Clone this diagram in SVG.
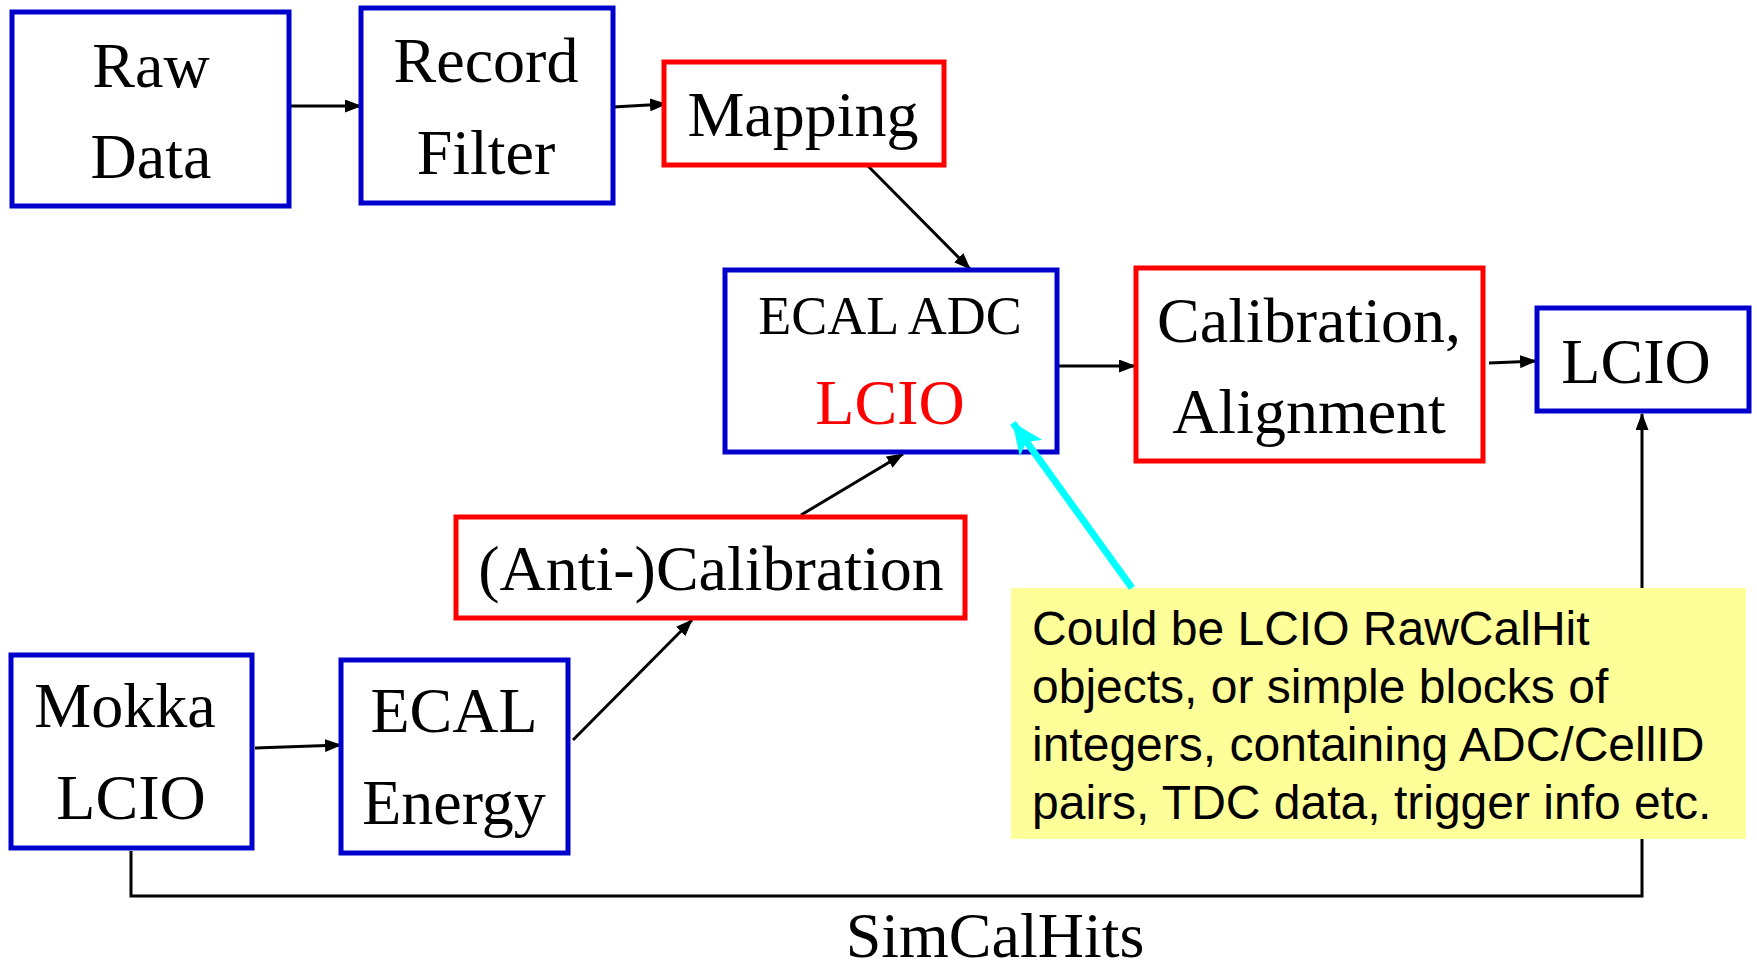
<svg xmlns="http://www.w3.org/2000/svg" width="1757" height="969" viewBox="0 0 1757 969">
<style>
.box{fill:#fff;stroke-width:5}
.blue{stroke:#0000CC}
.red{stroke:#FF0000}
.t{font-family:"Liberation Serif","Times New Roman",serif;font-size:64px;fill:#000;text-anchor:middle}
.s{font-size:54px}
.c{stroke:#000;stroke-width:3;fill:none}
.note{font-family:"Liberation Sans",Arial,sans-serif;font-size:48px;fill:#000}
</style>
<defs>
<marker id="ah" markerWidth="17" markerHeight="13" refX="16" refY="6.5" orient="auto" markerUnits="userSpaceOnUse">
<path d="M0,0 L17,6.5 L0,13 Z" fill="#000"/>
</marker>
<marker id="ahc" markerWidth="32" markerHeight="28" refX="31" refY="14" orient="auto" markerUnits="userSpaceOnUse">
<path d="M0,0 L32,14 L0,28 L8,14 Z" fill="#00FFFF"/>
</marker>
</defs>
<g id="connectors">
<line class="c" x1="290" y1="106" x2="361" y2="106" marker-end="url(#ah)"/>
<line class="c" x1="613" y1="107" x2="666" y2="104" marker-end="url(#ah)"/>
<line class="c" x1="868" y1="166" x2="970" y2="269" marker-end="url(#ah)"/>
<line class="c" x1="1057" y1="366" x2="1135" y2="366" marker-end="url(#ah)"/>
<line class="c" x1="1489" y1="363" x2="1536" y2="361" marker-end="url(#ah)"/>
<line class="c" x1="255" y1="748" x2="341" y2="745" marker-end="url(#ah)"/>
<line class="c" x1="573" y1="740" x2="692" y2="620" marker-end="url(#ah)"/>
<line class="c" x1="801" y1="515" x2="903" y2="454" marker-end="url(#ah)"/>
<polyline class="c" points="131,851 131,896 1642,896 1642,414" marker-end="url(#ah)"/>
</g>
<g id="raw-data">
<rect class="box blue" x="12" y="12" width="277" height="194"/>
<text class="t" x="151" y="87">Raw</text>
<text class="t" x="151" y="178">Data</text>
</g>
<g id="record-filter">
<rect class="box blue" x="361" y="8" width="252" height="195"/>
<text class="t" x="486" y="82">Record</text>
<text class="t" x="486" y="174">Filter</text>
</g>
<g id="mapping">
<rect class="box red" x="664" y="62" width="280" height="103"/>
<text class="t" x="803" y="136">Mapping</text>
</g>
<g id="ecal-adc">
<rect class="box blue" x="725" y="270" width="332" height="182"/>
<text class="t s" x="890" y="334">ECAL ADC</text>
<text class="t" x="890" y="424" fill="#FF0000" style="fill:#FF0000">LCIO</text>
</g>
<g id="calibration-alignment">
<rect class="box red" x="1136" y="268" width="347" height="193"/>
<text class="t" x="1309" y="342">Calibration,</text>
<text class="t" x="1309" y="433">Alignment</text>
</g>
<g id="lcio-out">
<rect class="box blue" x="1537" y="308" width="212" height="103"/>
<text class="t" x="1636" y="383">LCIO</text>
</g>
<g id="anti-calibration">
<rect class="box red" x="456" y="517" width="509" height="101"/>
<text class="t" x="711" y="590">(Anti-)Calibration</text>
</g>
<g id="mokka-lcio">
<rect class="box blue" x="11" y="655" width="241" height="193"/>
<text class="t" x="125" y="727">Mokka</text>
<text class="t" x="131" y="819">LCIO</text>
</g>
<g id="ecal-energy">
<rect class="box blue" x="341" y="660" width="227" height="193"/>
<text class="t" x="454" y="732">ECAL</text>
<text class="t" x="454" y="824">Energy</text>
</g>
<g id="note">
<rect x="1011" y="588" width="735" height="251" fill="#FFFF99"/>
<text class="note" x="1032" y="645">Could be LCIO RawCalHit</text>
<text class="note" x="1032" y="703">objects, or simple blocks of</text>
<text class="note" x="1032" y="761">integers, containing ADC/CellID</text>
<text class="note" x="1032" y="819">pairs, TDC data, trigger info etc.</text>
</g>
<g id="note-pointer">
<line x1="1132" y1="588" x2="1013" y2="423" stroke="#00FFFF" stroke-width="7" marker-end="url(#ahc)"/>
</g>
<g id="label-simcalhits">
<text class="t" x="995" y="957">SimCalHits</text>
</g>
</svg>
